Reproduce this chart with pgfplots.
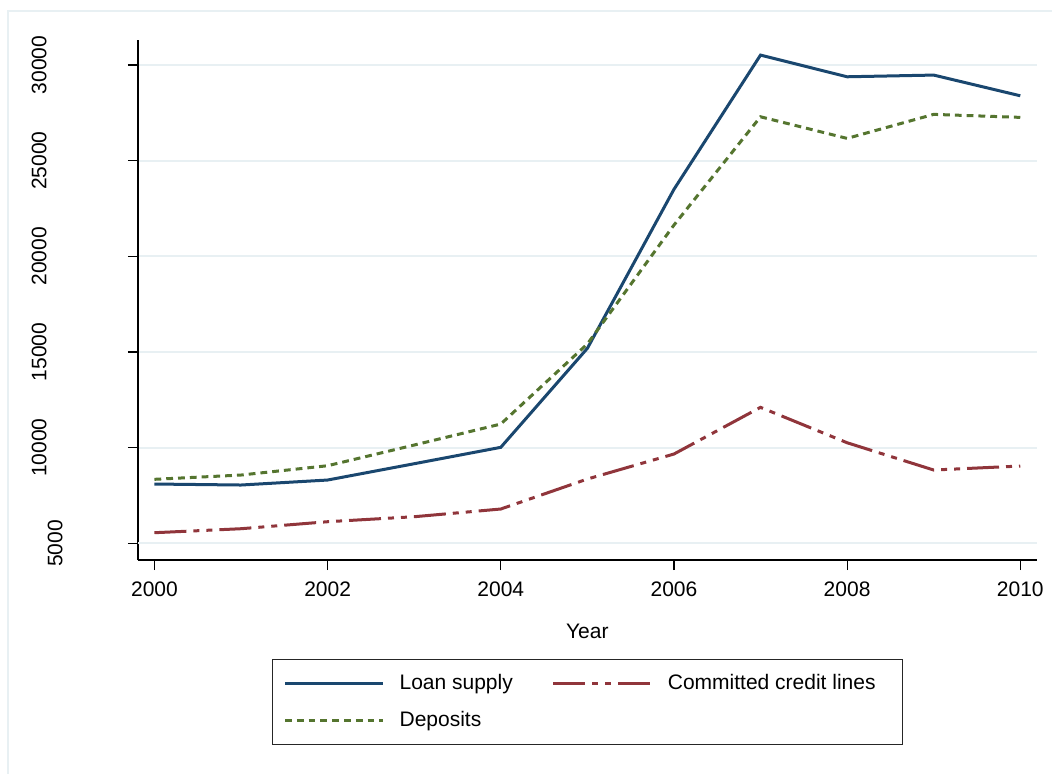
\documentclass[border=0pt]{standalone}
\usepackage{fontspec}
\setmainfont{Liberation Sans}
\usepackage{pgfplots}
\pgfplotsset{compat=1.18}
\definecolor{stnavy}{RGB}{26,71,111}
\definecolor{stmaroon}{RGB}{144,53,59}
\definecolor{stgreen}{RGB}{85,117,47}
\definecolor{gridc}{RGB}{232,240,243}
\begin{document}
\fontsize{10.5}{12.6}\selectfont
\begin{tikzpicture}
\useasboundingbox (0,0) rectangle (526pt,-386.5pt);
\draw[gridc, line width=1pt] (4pt,-420pt) -- (4pt,-5.5pt) -- (560pt,-5.5pt);
\begin{axis}[
  at={(69pt,-280pt)}, anchor=south west,
  scale only axis, width=449.35pt, height=260pt,
  xmin=1999.81, xmax=2010.19, ymin=4127, ymax=31307,
  axis x line*=bottom, axis y line*=left,
  axis line style={line width=0.6pt, black},
  xtick={2000,2002,2004,2006,2008,2010},
  ytick={10000,15000,20000,25000,30000},
  extra y ticks={5000},
  extra y tick style={yticklabel shift=32.5pt},
  scaled x ticks=false, scaled y ticks=false,
  tick align=outside, major tick length=5pt,
  tick style={black, line width=0.6pt},
  ymajorgrids, grid style={gridc, line width=1pt},
  /pgf/number format/assume math mode=true,
  /pgf/number format/1000 sep={},
  every tick label/.append style={font=\fontsize{10.5}{12.6}\selectfont},
  xticklabel style={anchor=north, inner sep=0pt},
  xticklabel shift=5.85pt,
  yticklabel style={rotate=90, anchor=south, inner sep=0pt},
  yticklabel shift=40.5pt,
  xlabel={Year},
  xlabel style={at={(axis description cs:0.5,0)}, anchor=north, yshift=-32pt, inner sep=0pt, font=\fontsize{10.5}{12.6}\selectfont},
  legend columns=2,
  legend cell align=left,
  legend style={at={(0.1491,-0.1894)}, anchor=north west, draw=black!85, line width=0.6pt, fill=white,
    inner xsep=5.5pt, inner ysep=7.5pt, row sep=9.4pt, column sep=7.5pt,
    nodes={inner sep=0pt, font=\fontsize{10.5}{12.6}\selectfont},
    /tikz/column 2/.style={column sep=19.5pt}},
  legend image code/.code={\draw[#1] (0pt,0pt) -- (49pt,0pt);},
]
\addplot[stnavy, line width=1.5pt] coordinates {
(2000,8099) (2001,8047) (2002,8308) (2003,9160) (2004,10017) (2005,15191)
(2006,23500) (2007,30519) (2008,29385) (2009,29474) (2010,28392)};
\addlegendentry{Loan supply}
\addplot[stmaroon, line width=1.5pt, dash pattern=on 16pt off 3.5pt on 3pt off 3.5pt on 3pt off 3.5pt] coordinates {
(2000,5554) (2001,5763) (2002,6129) (2003,6390) (2004,6793) (2005,8360)
(2006,9667) (2007,12107) (2008,10257) (2009,8831) (2010,9040)};
\addlegendentry{Committed credit lines\hspace*{8pt}}
\addplot[stgreen, line width=1.5pt, dash pattern=on 3.4pt off 2.5pt] coordinates {
(2000,8345) (2001,8569) (2002,9056) (2003,10137) (2004,11234) (2005,15420)
(2006,21634) (2007,27294) (2008,26165) (2009,27420) (2010,27263)};
\addlegendentry{Deposits}
\end{axis}
\end{tikzpicture}
\end{document}
